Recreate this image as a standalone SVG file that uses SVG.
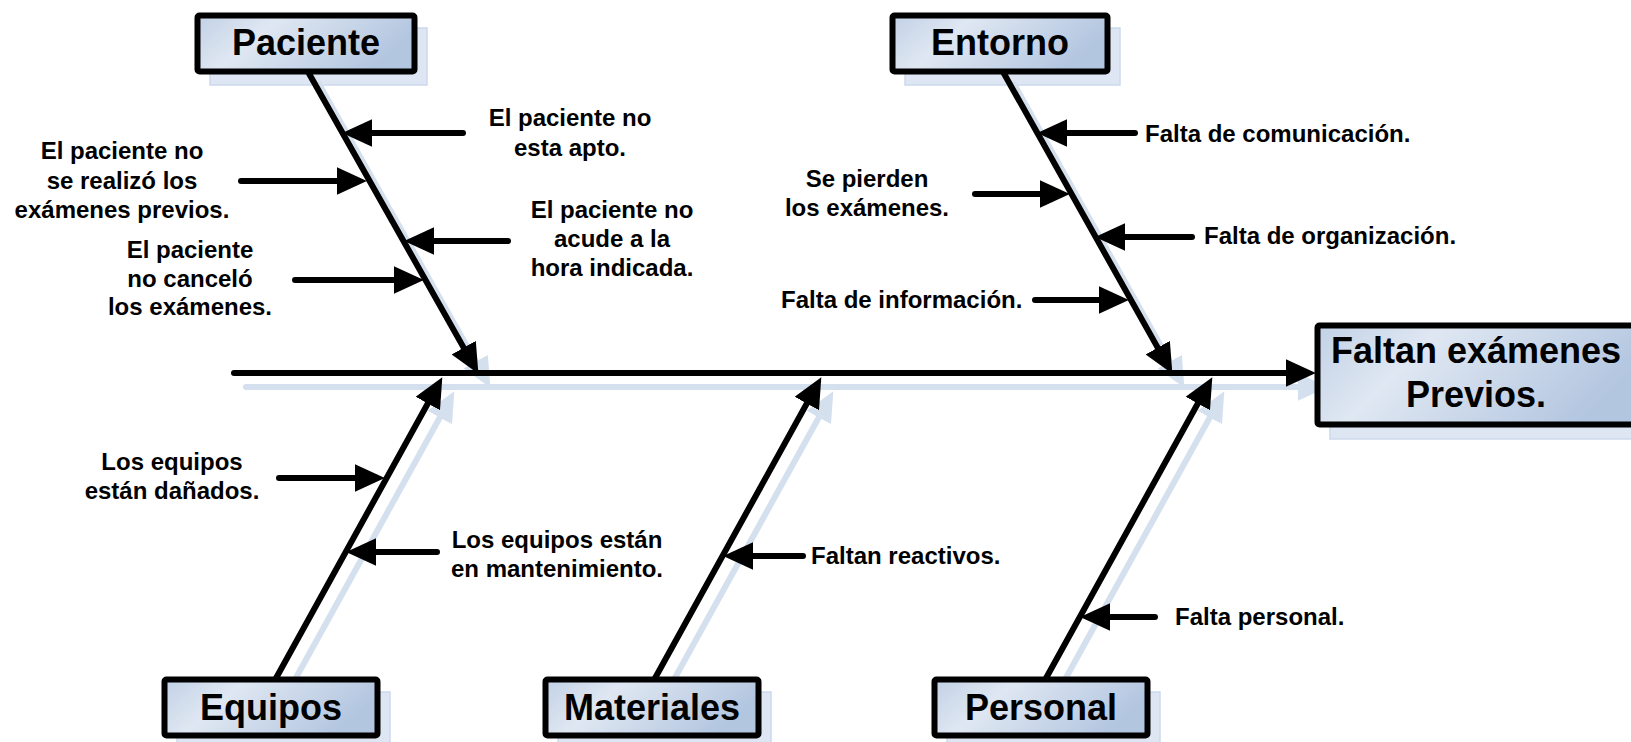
<svg xmlns="http://www.w3.org/2000/svg" width="1631" height="742" viewBox="0 0 1631 742">
<style>
.t{font-family:"Liberation Sans",Arial,sans-serif;font-weight:bold;fill:#000}
.s{font-size:24px}
.b{font-size:36px}
.m{text-anchor:middle}
.ln{stroke:#000;stroke-width:6;stroke-linecap:round;fill:none}
.sh{stroke:#d5e0ef;stroke-width:6;stroke-linecap:round;fill:none}
.box{fill:url(#g);stroke:#000;stroke-width:6}
.bsh{fill:#dde6f2;stroke:#ccd9ec;stroke-width:1.5}
</style>
<defs>
<linearGradient id="g" x1="0" y1="0" x2="1" y2="0.3">
<stop offset="0" stop-color="#c2d1e6"/>
<stop offset="0.35" stop-color="#dfe7f2"/>
<stop offset="1" stop-color="#b3c6e0"/>
</linearGradient>
<marker id="ah" markerUnits="userSpaceOnUse" markerWidth="30" markerHeight="28" viewBox="0 0 28 26" refX="16" refY="13" orient="auto">
<path d="M0,0 L28,13 L0,26 z" fill="#000"/>
</marker>
<marker id="ahs" markerUnits="userSpaceOnUse" markerWidth="30" markerHeight="28" viewBox="0 0 28 26" refX="16" refY="13" orient="auto">
<path d="M0,0 L28,13 L0,26 z" fill="#d5e0ef"/>
</marker>
</defs>

<g id="box-shadows">
<rect class="bsh" x="210" y="28" width="217" height="57"/>
<rect class="bsh" x="905" y="28" width="215" height="57"/>
<rect class="bsh" x="177" y="692" width="213" height="57"/>
<rect class="bsh" x="558" y="692" width="213" height="57"/>
<rect class="bsh" x="947" y="692" width="213" height="57"/>
<rect class="bsh" x="1330" y="338" width="320" height="101"/>
</g>

<g id="connectors">
<g transform="translate(12,14)">
<line class="sh" x1="234" y1="373" x2="1303" y2="373" marker-end="url(#ahs)"/>
<line class="sh" x1="307" y1="70" x2="472.1" y2="362.6" marker-end="url(#ahs)"/>
<line class="sh" x1="1002" y1="70" x2="1166.1" y2="362.6" marker-end="url(#ahs)"/>
<line class="sh" x1="275" y1="680" x2="436.1" y2="388.5" marker-end="url(#ahs)"/>
<line class="sh" x1="654" y1="680" x2="815.1" y2="388.5" marker-end="url(#ahs)"/>
<line class="sh" x1="1045" y1="680" x2="1206.1" y2="388.5" marker-end="url(#ahs)"/>
</g>
<line class="ln" x1="234" y1="373" x2="1303" y2="373" marker-end="url(#ah)"/>
<line class="ln" x1="307" y1="70" x2="472.1" y2="362.6" marker-end="url(#ah)"/>
<line class="ln" x1="1002" y1="70" x2="1166.1" y2="362.6" marker-end="url(#ah)"/>
<line class="ln" x1="275" y1="680" x2="436.1" y2="388.5" marker-end="url(#ah)"/>
<line class="ln" x1="654" y1="680" x2="815.1" y2="388.5" marker-end="url(#ah)"/>
<line class="ln" x1="1045" y1="680" x2="1206.1" y2="388.5" marker-end="url(#ah)"/>

<line class="ln" x1="463" y1="133" x2="355" y2="133" marker-end="url(#ah)"/>
<line class="ln" x1="241" y1="181" x2="354" y2="181" marker-end="url(#ah)"/>
<line class="ln" x1="508" y1="241" x2="417" y2="241" marker-end="url(#ah)"/>
<line class="ln" x1="295" y1="280" x2="411" y2="280" marker-end="url(#ah)"/>

<line class="ln" x1="1135" y1="133" x2="1050" y2="133" marker-end="url(#ah)"/>
<line class="ln" x1="975" y1="194" x2="1057" y2="194" marker-end="url(#ah)"/>
<line class="ln" x1="1192" y1="237" x2="1108" y2="237" marker-end="url(#ah)"/>
<line class="ln" x1="1035" y1="300" x2="1116" y2="300" marker-end="url(#ah)"/>

<line class="ln" x1="279" y1="478" x2="372" y2="478" marker-end="url(#ah)"/>
<line class="ln" x1="437" y1="552" x2="359" y2="552" marker-end="url(#ah)"/>
<line class="ln" x1="803" y1="556" x2="736" y2="556" marker-end="url(#ah)"/>
<line class="ln" x1="1155" y1="617" x2="1093" y2="617" marker-end="url(#ah)"/>
</g>

<g id="paciente">
<rect class="box" x="197.5" y="15.5" width="217" height="56" rx="2"/>
<text class="t b m" x="306" y="55">Paciente</text>
</g>
<g id="entorno">
<rect class="box" x="892.5" y="15.5" width="215" height="56" rx="2"/>
<text class="t b m" x="1000" y="55">Entorno</text>
</g>
<g id="equipos">
<rect class="box" x="164.5" y="679.5" width="213" height="56" rx="2"/>
<text class="t b m" x="271" y="720">Equipos</text>
</g>
<g id="materiales">
<rect class="box" x="545.5" y="679.5" width="213" height="56" rx="2"/>
<text class="t b m" x="652" y="720">Materiales</text>
</g>
<g id="personal">
<rect class="box" x="934.5" y="679.5" width="213" height="56" rx="2"/>
<text class="t b m" x="1041" y="720">Personal</text>
</g>
<g id="efecto">
<rect class="box" x="1317.5" y="325.5" width="330" height="99" rx="2"/>
<text class="t b m" x="1476" y="363">Faltan exámenes</text>
<text class="t b m" x="1476" y="407">Previos.</text>
</g>

<g id="causa-apto">
<text class="t s m" x="570" y="126">El paciente no</text>
<text class="t s m" x="570" y="156">esta apto.</text>
</g>
<g id="causa-realizo">
<text class="t s m" x="122" y="159">El paciente no</text>
<text class="t s m" x="122" y="189">se realizó los</text>
<text class="t s m" x="122" y="218">exámenes previos.</text>
</g>
<g id="causa-acude">
<text class="t s m" x="612" y="218">El paciente no</text>
<text class="t s m" x="612" y="247">acude a la</text>
<text class="t s m" x="612" y="276">hora indicada.</text>
</g>
<g id="causa-cancelo">
<text class="t s m" x="190" y="258">El paciente</text>
<text class="t s m" x="190" y="287">no canceló</text>
<text class="t s m" x="190" y="315">los exámenes.</text>
</g>
<g id="causa-comunicacion">
<text class="t s" x="1145" y="142">Falta de comunicación.</text>
</g>
<g id="causa-pierden">
<text class="t s m" x="867" y="187">Se pierden</text>
<text class="t s m" x="867" y="216">los exámenes.</text>
</g>
<g id="causa-organizacion">
<text class="t s" x="1204" y="244">Falta de organización.</text>
</g>
<g id="causa-informacion">
<text class="t s" x="781" y="308">Falta de información.</text>
</g>
<g id="causa-danados">
<text class="t s m" x="172" y="470">Los equipos</text>
<text class="t s m" x="172" y="499">están dañados.</text>
</g>
<g id="causa-mantenimiento">
<text class="t s m" x="557" y="548">Los equipos están</text>
<text class="t s m" x="557" y="577">en mantenimiento.</text>
</g>
<g id="causa-reactivos">
<text class="t s" x="811" y="564">Faltan reactivos.</text>
</g>
<g id="causa-personal">
<text class="t s" x="1175" y="625">Falta personal.</text>
</g>
</svg>
